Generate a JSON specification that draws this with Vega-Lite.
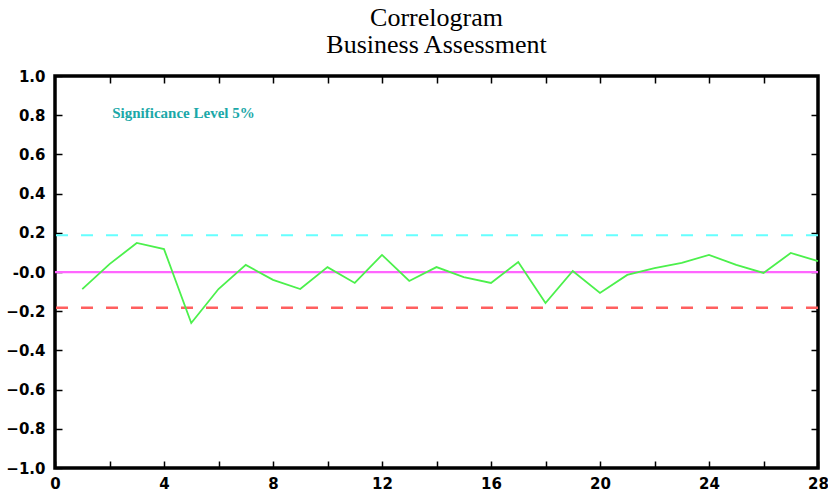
{
  "$schema": "https://vega.github.io/schema/vega-lite/v6.json",
  "width": 763,
  "height": 392,
  "autosize": {"type": "none"},
  "padding": {"left": 55, "top": 76, "right": 10, "bottom": 27},
  "background": "white",
  "title": {
    "text": ["Correlogram", "Business Assessment"],
    "font": "Liberation Serif",
    "fontSize": 26,
    "fontWeight": "normal",
    "color": "black",
    "lineHeight": 27,
    "anchor": "middle",
    "offset": 11
  },
  "config": {
    "view": {"stroke": "black", "strokeWidth": 3.5},
    "axis": {
      "domain": false,
      "grid": false,
      "labelFont": "DejaVu Sans",
      "labelFontWeight": "bold",
      "labelFontSize": 15,
      "labelColor": "black",
      "title": null
    }
  },
  "datasets": {
    "acf": [
      {"lag": 1, "r": -0.087}, {"lag": 2, "r": 0.04}, {"lag": 3, "r": 0.148},
      {"lag": 4, "r": 0.117}, {"lag": 5, "r": -0.26}, {"lag": 6, "r": -0.087},
      {"lag": 7, "r": 0.036}, {"lag": 8, "r": -0.04}, {"lag": 9, "r": -0.087},
      {"lag": 10, "r": 0.025}, {"lag": 11, "r": -0.056}, {"lag": 12, "r": 0.087},
      {"lag": 13, "r": -0.046}, {"lag": 14, "r": 0.025}, {"lag": 15, "r": -0.026},
      {"lag": 16, "r": -0.056}, {"lag": 17, "r": 0.051}, {"lag": 18, "r": -0.158},
      {"lag": 19, "r": 0.005}, {"lag": 20, "r": -0.107}, {"lag": 21, "r": -0.015},
      {"lag": 22, "r": 0.02}, {"lag": 23, "r": 0.046}, {"lag": 24, "r": 0.087},
      {"lag": 25, "r": 0.036}, {"lag": 26, "r": -0.005}, {"lag": 27, "r": 0.097},
      {"lag": 28, "r": 0.056}
    ],
    "bands": [
      {"band": "upper", "value": 0.188},
      {"band": "zero", "value": 0},
      {"band": "lower", "value": -0.182}
    ],
    "note": [
      {"lag": 2.1, "r": 0.81, "label": "Significance Level 5%"}
    ]
  },
  "resolve": {"axis": {"x": "independent", "y": "independent"}},
  "layer": [
    {
      "data": {"name": "bands"},
      "mark": {"type": "rule"},
      "encoding": {
        "y": {
          "field": "value", "type": "quantitative",
          "scale": {"domain": [-1, 1], "nice": false, "zero": false},
          "axis": {"orient": "right", "labels": false, "ticks": true, "tickColor": "black", "tickSize": -7, "tickWidth": 1.5, "values": [-0.8, -0.6, -0.4, -0.2, 0, 0.2, 0.4, 0.6, 0.8]}
        },
        "color": {
          "field": "band", "type": "nominal",
          "scale": {"domain": ["upper", "zero", "lower"], "range": ["#66ffff", "#ff66ff", "#ff5f5f"]},
          "legend": null
        },
        "strokeDash": {
          "field": "band", "type": "nominal",
          "scale": {"domain": ["upper", "zero", "lower"], "range": [[12, 13], [1, 0], [12, 13]]},
          "legend": null
        },
        "strokeWidth": {
          "field": "band", "type": "nominal",
          "scale": {"domain": ["upper", "zero", "lower"], "range": [2, 2.5, 2]},
          "legend": null
        }
      }
    },
    {
      "data": {"name": "acf"},
      "mark": {"type": "line", "color": "#4cf04c", "strokeWidth": 1.8},
      "encoding": {
        "x": {
          "field": "lag", "type": "quantitative",
          "scale": {"domain": [0, 28], "nice": false, "zero": false},
          "axis": {
            "orient": "bottom",
            "ticks": true, "tickColor": "black", "tickSize": -7, "tickWidth": 1.5,
            "values": [0, 2, 4, 6, 8, 10, 12, 14, 16, 18, 20, 22, 24, 26, 28],
            "labelExpr": "datum.value % 4 == 0 ? datum.label : ''",
            "labelPadding": 15,
            "labelFlush": false,
            "labelOverlap": false
          }
        },
        "y": {
          "field": "r", "type": "quantitative",
          "scale": {"domain": [-1, 1], "nice": false, "zero": false},
          "axis": {
            "orient": "left",
            "ticks": true, "tickColor": "black", "tickSize": -7, "tickWidth": 1.5,
            "values": [-1, -0.8, -0.6, -0.4, -0.2, 0, 0.2, 0.4, 0.6, 0.8, 1],
            "labelExpr": "datum.value == 0 ? '-0.0' : format(datum.value, '.1f')",
            "labelPadding": 17,
            "labelFlush": false,
            "labelOverlap": false
          }
        }
      }
    },
    {
      "data": {"name": "note"},
      "mark": {"type": "text", "align": "left", "baseline": "middle", "font": "Liberation Serif", "fontWeight": "bold", "fontSize": 15, "color": "#1aa8a8"},
      "encoding": {
        "x": {
          "field": "lag", "type": "quantitative",
          "axis": {"orient": "top", "labels": false, "ticks": true, "tickColor": "black", "tickSize": -7, "tickWidth": 1.5, "values": [2, 4, 6, 8, 10, 12, 14, 16, 18, 20, 22, 24, 26]}
        },
        "y": {"field": "r", "type": "quantitative", "axis": null},
        "text": {"field": "label"}
      }
    }
  ]
}
